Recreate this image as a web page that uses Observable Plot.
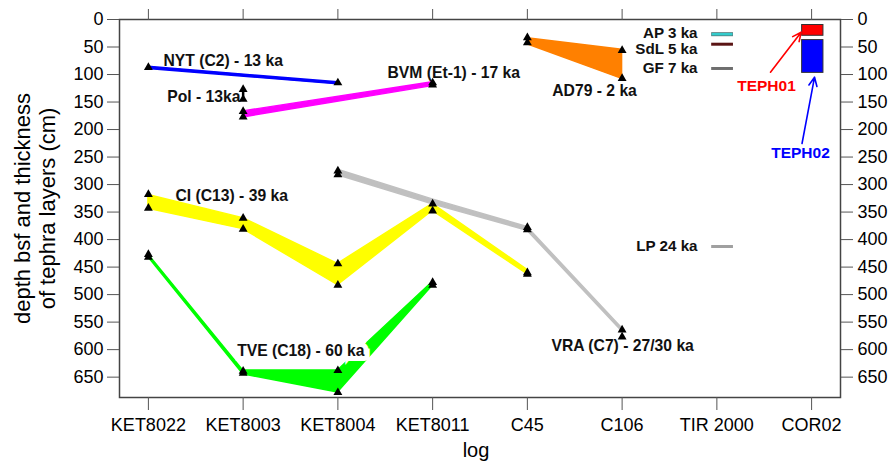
<!DOCTYPE html>
<html><head><meta charset="utf-8">
<script src="https://cdn.jsdelivr.net/npm/d3@7"></script>
<script src="https://cdn.jsdelivr.net/npm/@observablehq/plot@0.6"></script>
<style>
body{margin:0;background:#fff}
</style>
</head><body><div id="chart"></div>
<script>
// categories (cores / logs)
const cores = ["KET8022","KET8003","KET8004","KET8011","C45","C106","TIR 2000","COR02"];
const depthTicks = d3.range(0, 651, 50);

// tephra layers: depth of top and base (cm) in each core
const NYT  = [{core:"KET8022",top:86,base:90},{core:"KET8004",top:114,base:118}];
const POL  = [{core:"KET8003",top:127,base:145}];
const BVM  = [{core:"KET8003",top:167,base:178},{core:"KET8011",top:114,base:121}];
const CI   = [{core:"KET8022",top:319,base:344},{core:"KET8003",top:361,base:381},{core:"KET8004",top:444,base:483},{core:"KET8011",top:335,base:348},{core:"C45",top:455,base:463}];
const TVE  = [{core:"KET8022",top:427,base:432},{core:"KET8003",top:638,base:645},{core:"KET8004",top:638,base:678},{core:"KET8011",top:477,base:484}];
const VRA  = [{core:"KET8004",top:273,base:283},{core:"KET8011",top:327,base:336},{core:"C45",top:377,base:384},{core:"C106",top:561,base:567}];
const AD79 = [{core:"C45",top:34,base:45},{core:"C106",top:55,base:108}];

// sample depth markers (triangles)
const markers = [
  {core:"KET8022",depth:87},{core:"KET8022",depth:318},{core:"KET8022",depth:343},{core:"KET8022",depth:427},{core:"KET8022",depth:432},
  {core:"KET8003",depth:127},{core:"KET8003",depth:145},{core:"KET8003",depth:167},{core:"KET8003",depth:177},{core:"KET8003",depth:361},{core:"KET8003",depth:381},{core:"KET8003",depth:639},{core:"KET8003",depth:643},
  {core:"KET8004",depth:115},{core:"KET8004",depth:275},{core:"KET8004",depth:282},{core:"KET8004",depth:444},{core:"KET8004",depth:483},{core:"KET8004",depth:638},{core:"KET8004",depth:678},
  {core:"KET8011",depth:115},{core:"KET8011",depth:119},{core:"KET8011",depth:335},{core:"KET8011",depth:348},{core:"KET8011",depth:478},{core:"KET8011",depth:483},
  {core:"C45",depth:33},{core:"C45",depth:42},{core:"C45",depth:378},{core:"C45",depth:382},{core:"C45",depth:460},{core:"C45",depth:463},
  {core:"C106",depth:56},{core:"C106",depth:107},{core:"C106",depth:564},{core:"C106",depth:577}
];

// TIR 2000 tephra (short segments)
const tirNames  = ["AP 3 ka","SdL 5 ka","GF 7 ka","LP 24 ka"];
const tirDepths = [26.7, 44.9, 89, 412.6];
const tirLabelDepths = [24, 54, 89, 412.6];
const tirColors = ["#33cccc","#5a1414","#6e6e6e","#a0a0a0"];

// COR02 tephra
const corNames = ["TEPH01","TEPH02"];
const corTop   = [10, 37.4];
const corBase  = [29.6, 97];
const corColors = ["#ff0000","#0000ff"];

// label annotations
const startLabels = [
  {text:"NYT (C2) - 13 ka", x:0.159, y:74.5},
  {text:"BVM (Et-1) - 17 ka", x:2.524, y:97.6},
  {text:"CI (C13) - 39 ka", x:0.286, y:320},
  {text:"VRA (C7) - 27/30 ka", x:4.254, y:594}
];
const endLabels = [{text:"Pol - 13ka", x:0.972, y:141}];
const middleLabels = [{text:"AD79 - 2 ka", x:4.709, y:129}];
const tveLabel = [{text:"TVE (C18) - 60 ka", x:0.937, y:603}];
const arrows = [
  {x1:6.566,y1:95.8,x2:6.890,y2:23.1,color:"#ff0000"},
  {x1:6.899,y1:225.4,x2:7.031,y2:104.9,color:"#0000ff"}
];
const corLabels = [{text:"TEPH01",x:6.524,y:121.8,color:"#ff0000"},{text:"TEPH02",x:6.883,y:243,color:"#0000ff"}];

const ci = c => cores.indexOf(c);
const band = (data, color) => Plot.areaY(data, {x: d => ci(d.core), y1: "top", y2: "base", fill: color, stroke: color, strokeWidth: 1.4});

const tir = tirNames.map((n,i) => ({name:n, core:"TIR 2000", depth:tirDepths[i], ly:tirLabelDepths[i], color:tirColors[i]}));
const cor = corNames.map((n,i) => ({name:n, core:"COR02", top:corTop[i], base:corBase[i], color:corColors[i]}));
const bold = {fontWeight: "bold", fontSize: 15.7, fill: "#111"};

const chart = Plot.plot({
  width: 889, height: 464,
  marginLeft: 119, marginRight: 49, marginTop: 19, marginBottom: 67,
  x: {type: "linear", domain: [-0.305, 7.305]},
  y: {domain: [0, 687], reverse: true},
  style: {fontFamily: "'Liberation Sans', Arial, sans-serif", fontSize: "18px", color: "#000", background: "#fff"},
  marks: [
    band(CI, "#ffff00"),
    band(VRA, "#c0c0c0"),
    band(TVE, "#00ff00"),
    band(BVM, "#ff00ff"),
    band(NYT, "#0000ff"),
    band(AD79, "#ff8000"),
    Plot.link(POL, {x: d => ci(d.core), y1: "top", y2: "base", stroke: "#000", strokeWidth: 2.5}),
    Plot.dot(markers, {x: d => ci(d.core), y: "depth", symbol: "triangle", r: 3.3, fill: "#000"}),
    // TIR 2000 segments
    Plot.link(tir, {x1: d => ci(d.core) - 0.06, x2: d => ci(d.core) + 0.17, y1: "depth", y2: "depth", stroke: d => d.name === "AP 3 ka" ? "#557777" : d.color, strokeWidth: d => d.name === "AP 3 ka" ? 4 : 3}),
    Plot.link(tir.filter(d => d.name === "AP 3 ka"), {x1: d => ci(d.core) - 0.055, x2: d => ci(d.core) + 0.165, y1: "depth", y2: "depth", stroke: d => d.color, strokeWidth: 2.5}),
    Plot.text(tir, {x: 5.796, y: "ly", text: "name", textAnchor: "end", ...bold, fontSize: 15.2}),
    // COR02 rectangles
    Plot.rect(cor, {x1: d => ci(d.core) - 0.10, x2: d => ci(d.core) + 0.125, y1: "top", y2: "base", fill: "color", stroke: "#333", strokeWidth: 1}),
    Plot.arrow(arrows, {x1: "x1", y1: "y1", x2: "x2", y2: "y2", stroke: "color", strokeWidth: 1.6, headLength: 9, headAngle: 50}),
    Plot.text(corLabels, {x: "x", y: "y", text: "text", fill: "color", fontWeight: "bold", fontSize: 15.5}),
    // layer labels
    Plot.text(startLabels, {x: "x", y: "y", text: "text", textAnchor: "start", ...bold}),
    Plot.text(endLabels, {x: "x", y: "y", text: "text", textAnchor: "end", ...bold}),
    Plot.text(middleLabels, {x: "x", y: "y", text: "text", textAnchor: "middle", ...bold}),
    Plot.text(tveLabel, {x: "x", y: "y", text: "text", textAnchor: "start", ...bold, stroke: "#fff", strokeWidth: 10, strokeLinejoin: "miter"}),
    // axes
    Plot.frame({stroke: "#444", strokeWidth: 1.5}),
    Plot.axisY({anchor: "left", ticks: depthTicks, tickSize: 12, tickPadding: 4, label: null, stroke: "#555", fontSize: 18}),
    Plot.axisY({anchor: "right", ticks: depthTicks, tickSize: 12, tickPadding: 5, label: null, stroke: "#555", fontSize: 18}),
    Plot.axisX({anchor: "bottom", ticks: d3.range(cores.length), tickFormat: i => cores[i], tickSize: 13, tickPadding: 8, label: null, stroke: "#555", fontSize: 18}),
    Plot.axisX({anchor: "top", ticks: d3.range(cores.length), tickFormat: () => "", tickSize: 11, label: null, stroke: "#555"}),
    Plot.text(["depth bsf and thickness\nof tephra layers (cm)"], {frameAnchor: "left", textAnchor: "middle", dx: -85, rotate: -90, fontSize: 22, lineHeight: 1.14, text: d => d}),
    Plot.text(["log"], {frameAnchor: "bottom", dy: 59, dx: -4, fontSize: 20, text: d => d})
  ]
});
document.getElementById("chart").appendChild(chart);
</script>
</body></html>
